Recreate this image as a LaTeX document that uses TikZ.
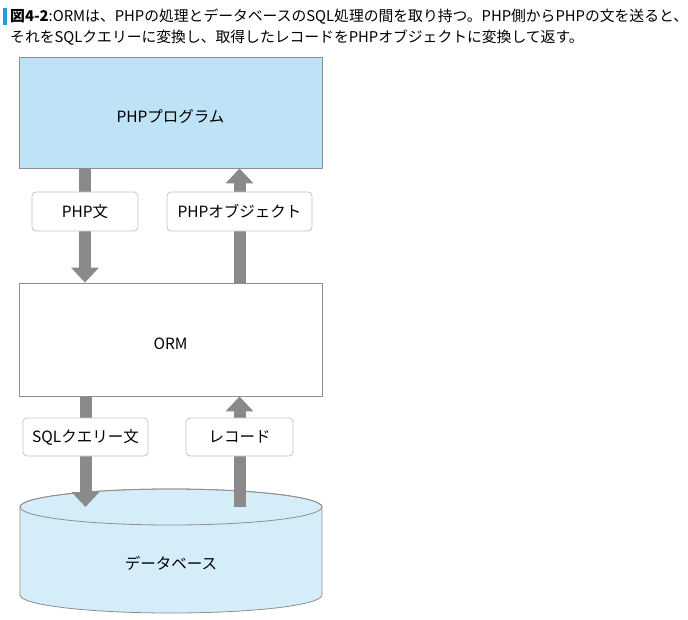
\documentclass[tikz,border=0pt]{standalone}
\usepackage{fontspec}
\setmainfont{Noto Sans CJK JP}
\usetikzlibrary{arrows.meta, backgrounds}
\definecolor{progblue}{HTML}{BFE3F6}
\definecolor{dbblue}{HTML}{D5EDF9}
\definecolor{arrowgray}{HTML}{8A8A8A}
\definecolor{framegray}{HTML}{8E8E8E}
\definecolor{labelgray}{HTML}{C4C4C4}
\definecolor{barblue}{HTML}{1E9FDA}
\tikzset{
  layer/.style={draw=framegray, line width=0.8pt, minimum width=303pt, inner sep=0pt, text height=20pt, text depth=0pt, font=\fontsize{15.5}{18}\selectfont},
  tag/.style={draw=labelgray, fill=white, rounded corners=4pt, line width=0.8pt, inner sep=0pt, font=\fontsize{15.5}{18}\selectfont},
  flow/.style={draw=arrowgray, line width=12pt, -{Triangle[length=15pt,width=27pt]}},
  caption/.style={anchor=base west, inner sep=0pt, font=\fontsize{14.8}{18}\selectfont}
}
\begin{document}
\begin{tikzpicture}[x=1pt,y=-1pt]
  \useasboundingbox (0,0) rectangle (688,619);

  \fill[barblue] (3,8) rectangle (7,25);
  \node[caption] (cap1) at (10,21) {\textbf{図4-2}:ORMは、PHPの処理とデータベースのSQL処理の間を取り持つ。PHP側からPHPの文を送ると、};
  \node[caption] (cap2) at (10,42) {それをSQLクエリーに変換し、取得したレコードをPHPオブジェクトに変換して返す。};

  \node[layer, fill=progblue, minimum height=111pt] (prog) at (170.5,112.5) {PHPプログラム};
  \node[layer, fill=white, minimum height=113pt] (orm) at (170.5,339.5) {ORM};

  \node[tag, minimum width=106pt, minimum height=39pt] (stmt) at (85,211.5) {PHP文};
  \node[tag, minimum width=145pt, minimum height=39pt] (obj) at (239.5,211.5) {PHPオブジェクト};
  \node[tag, minimum width=125pt, minimum height=38pt] (query) at (85.5,437) {SQLクエリー文};
  \node[tag, minimum width=107pt, minimum height=38pt] (record) at (239.5,437) {レコード};

  \coordinate (dbtop) at (171,507);
  \node[font=\fontsize{15.5}{18}\selectfont] (dbname) at (171,563) {データベース};

  \begin{scope}[on background layer]
    \filldraw[fill=dbblue, draw=framegray, line width=0.8pt] (20,507) -- (20,595)
      arc[start angle=180, end angle=0, x radius=151, y radius=18] -- (322,507)
      arc[start angle=0, end angle=-180, x radius=151, y radius=18] -- cycle;
    \draw[framegray, line width=0.8pt] (dbtop) ellipse [x radius=151, y radius=18];

    \draw[flow] (prog.south -| stmt) -- (orm.north -| stmt);
    \draw[flow] (orm.north -| obj) -- (prog.south -| obj);
    \draw[flow] (orm.south -| query) -- (dbtop -| query);
    \draw[flow] (dbtop -| record) -- (orm.south -| record);
  \end{scope}
\end{tikzpicture}
\end{document}
